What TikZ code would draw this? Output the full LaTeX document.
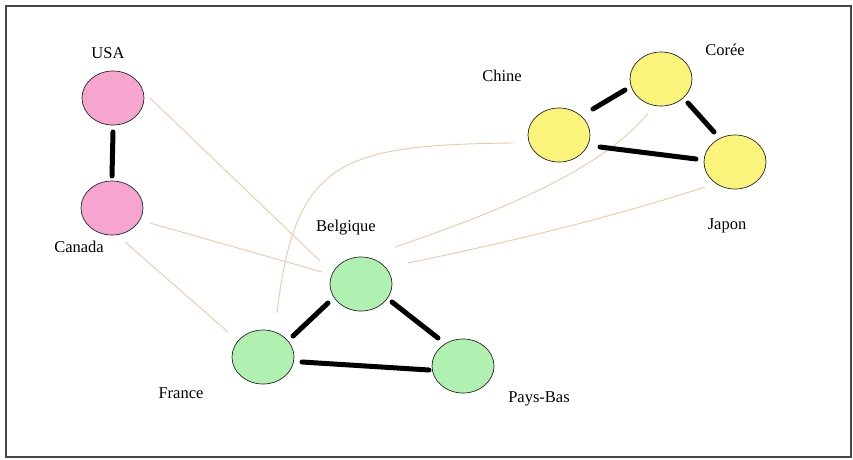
\documentclass[tikz,border=0pt]{standalone}
\usepackage{fontspec}
\setmainfont{Liberation Serif}
\usetikzlibrary{shapes.geometric}
\definecolor{pinkfill}{RGB}{246,166,206}
\definecolor{greenfill}{RGB}{176,240,176}
\definecolor{yellowfill}{RGB}{250,244,122}
\definecolor{tanline}{RGB}{240,200,165}
\definecolor{framecol}{RGB}{70,70,70}
\tikzset{
  country/.style={ellipse, draw=black!85, line width=0.7pt, minimum width=62pt, minimum height=54pt, inner sep=0pt},
  pinknode/.style={country, fill=pinkfill},
  greennode/.style={country, fill=greenfill},
  yellownode/.style={country, fill=yellowfill},
  lbl/.style={font=\fontsize{16.5}{18}\selectfont, inner sep=0pt},
  strong/.style={line width=5pt, line cap=round, black},
  weak/.style={line width=0.9pt, tanline},
}
\begin{document}
\begin{tikzpicture}[x=1pt, y=-1pt]
\useasboundingbox (0,0) rectangle (853,459);
\fill[white] (0,0) rectangle (853,459);
\draw[framecol, line width=2pt] (6,6) rectangle (851,457);

% nodes
\node[pinknode] (usa) at (113,98) {};
\node[pinknode] (can) at (112,208) {};
\node[greennode] (belg) at (361,284) {};
\node[greennode] (fra) at (263,357) {};
\node[greennode] (pb) at (463,366) {};
\node[yellownode] (chine) at (559,135) {};
\node[yellownode] (coree) at (661,79) {};
\node[yellownode] (japon) at (735,162) {};

% labels
\node[lbl] (lusa) at (108,53) {USA};
\node[lbl] (lcan) at (79,247) {Canada};
\node[lbl] (lbelg) at (346,228) {Belgique};
\node[lbl] (lfra) at (181,393) {France};
\node[lbl] (lpb) at (539,399) {Pays-Bas};
\node[lbl] (lchine) at (502,76) {Chine};
\node[lbl] (lcoree) at (725,50) {Corée};
\node[lbl] (ljapon) at (727,226) {Japon};

% weak links
\draw[weak] ([shift={(37,0)}]usa.center) -- ([shift={(-41,-23)}]belg.center);
\draw[weak] ([shift={(38,15)}]can.center) -- ([shift={(-39,-12)}]belg.center);
\draw[weak] ([shift={(13,34)}]can.center) -- ([shift={(-35,-25)}]fra.center);
\draw[weak] ([shift={(14,-44)}]fra.center) .. controls +(18,-153) and +(-173,2) .. ([shift={(-46,8)}]chine.center);
\draw[weak] ([shift={(34,-37)}]belg.center) .. controls +(82,-28) and +(-50,62) .. ([shift={(-13,34)}]coree.center);
\draw[weak] ([shift={(47,-21)}]belg.center) .. controls +(97,-20) and +(-95,31) .. ([shift={(-30,25)}]japon.center);

% strong links
\draw[strong] ([shift={(0,34)}]usa.center) -- ([shift={(0,-32)}]can.center);
\draw[strong] ([shift={(-33,19)}]belg.center) -- ([shift={(30,-21)}]fra.center);
\draw[strong] ([shift={(31,18)}]belg.center) -- ([shift={(-25,-28)}]pb.center);
\draw[strong] ([shift={(39,5)}]fra.center) -- ([shift={(-34,4)}]pb.center);
\draw[strong] ([shift={(34,-26)}]chine.center) -- ([shift={(-36,11)}]coree.center);
\draw[strong] ([shift={(27,24)}]coree.center) -- ([shift={(-21,-30)}]japon.center);
\draw[strong] ([shift={(41,12)}]chine.center) -- ([shift={(-39,-3)}]japon.center);
\end{tikzpicture}
\end{document}
